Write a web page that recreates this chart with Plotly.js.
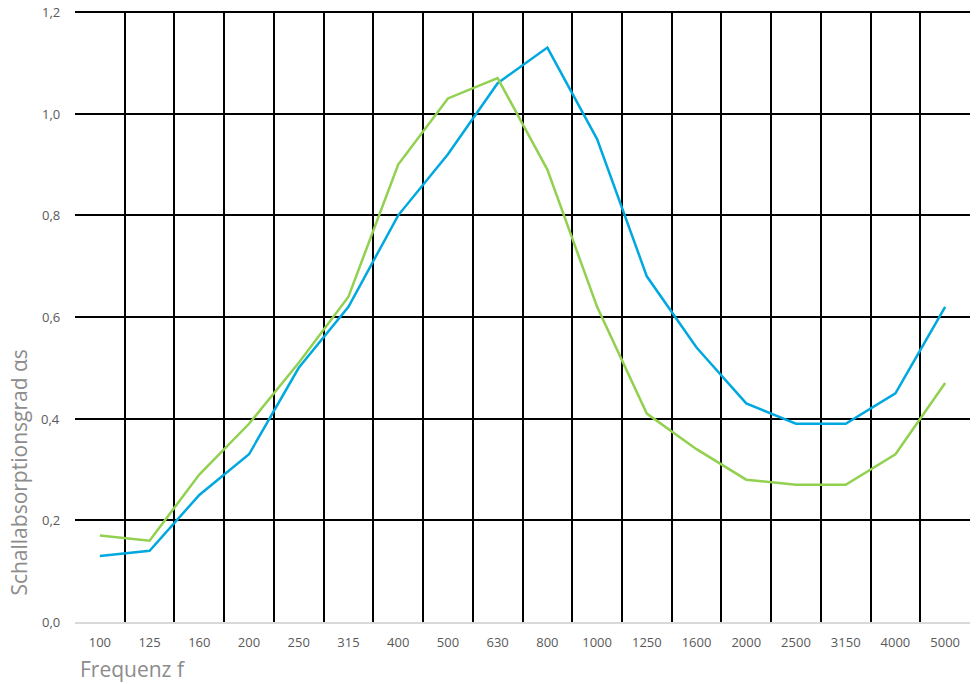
<!DOCTYPE html>
<html>
<head>
<meta charset="utf-8">
<script src="https://cdn.plot.ly/plotly-3.0.1.min.js"></script>
<style>html,body{margin:0;padding:0;background:#fff;}#chart{width:976px;height:684px;}</style>
</head>
<body>
<div id="chart"></div>
<script>
const categories = ['100','125','160','200','250','315','400','500','630','800','1000','1250','1600','2000','2500','3150','4000','5000'];
const blueValues = [0.13,0.14,0.25,0.33,0.50,0.62,0.80,0.92,1.06,1.13,0.95,0.68,0.54,0.43,0.39,0.39,0.45,0.62];
const greenValues = [0.17,0.16,0.29,0.39,0.51,0.64,0.90,1.03,1.07,0.89,0.62,0.41,0.34,0.28,0.27,0.27,0.33,0.47];
const yTicks = [0,0.2,0.4,0.6,0.8,1.0,1.2];
const yTickLabels = ['0,0','0,2','0,4','0,6','0,8','1,0','1,2'];

const font = '"Open Sans", "Noto Sans", sans-serif';
const traces = [
  {x: categories, y: blueValues, type: 'scatter', mode: 'lines', line: {color: '#00A8E0', width: 2.5}, hoverinfo: 'none'},
  {x: categories, y: greenValues, type: 'scatter', mode: 'lines', line: {color: '#92D050', width: 2.5}, hoverinfo: 'none'}
];
const tickAnnotations = yTicks.map((v, i) => ({
  text: yTickLabels[i], xref: 'paper', yref: 'y', x: 0, y: v, xanchor: 'right', yanchor: 'middle',
  showarrow: false, xshift: -13, font: {family: font, size: 13, color: '#595959'}
}));
const layout = {
  width: 976, height: 684,
  margin: {l: 75, r: 6, t: 12, b: 62},
  paper_bgcolor: '#fff', plot_bgcolor: '#fff',
  showlegend: false,
  separators: ',.',
  font: {family: font, color: '#595959', size: 13},
  xaxis: {
    type: 'category', tickson: 'boundaries', ticks: '',
    showgrid: true, gridcolor: '#000', gridwidth: 2,
    showline: true, linecolor: '#d9d9d9', linewidth: 2,
    zeroline: false, range: [-0.5, 17.5], fixedrange: true,
    ticklabelstandoff: 7,
    tickfont: {family: font, size: 13, color: '#595959'}
  },
  yaxis: {
    range: [0, 1.2], tickvals: yTicks, showticklabels: false,
    showgrid: true, gridcolor: '#000', gridwidth: 2,
    zeroline: false, showline: false, ticks: '', fixedrange: true
  },
  shapes: [
    {type: 'line', xref: 'paper', yref: 'paper', x0: 0, x1: 1, y0: 1, y1: 1, line: {color: '#000', width: 2}}
  ],
  annotations: tickAnnotations.concat([
    {text: 'Frequenz f', xref: 'paper', yref: 'paper', x: 0, y: -0.05, xanchor: 'left', yanchor: 'top', showarrow: false,
     xshift: 3, font: {family: font, size: 21, color: '#8c8c8c'}},
    {text: 'Schallabsorptionsgrad αs', xref: 'paper', yref: 'paper', x: 0, y: 0.04, xanchor: 'right', yanchor: 'bottom', showarrow: false,
     textangle: -90, xshift: -40, font: {family: font, size: 21, color: '#8c8c8c'}}
  ])
};
Plotly.newPlot('chart', traces, layout, {displayModeBar: false, staticPlot: true});
</script>
</body>
</html>
